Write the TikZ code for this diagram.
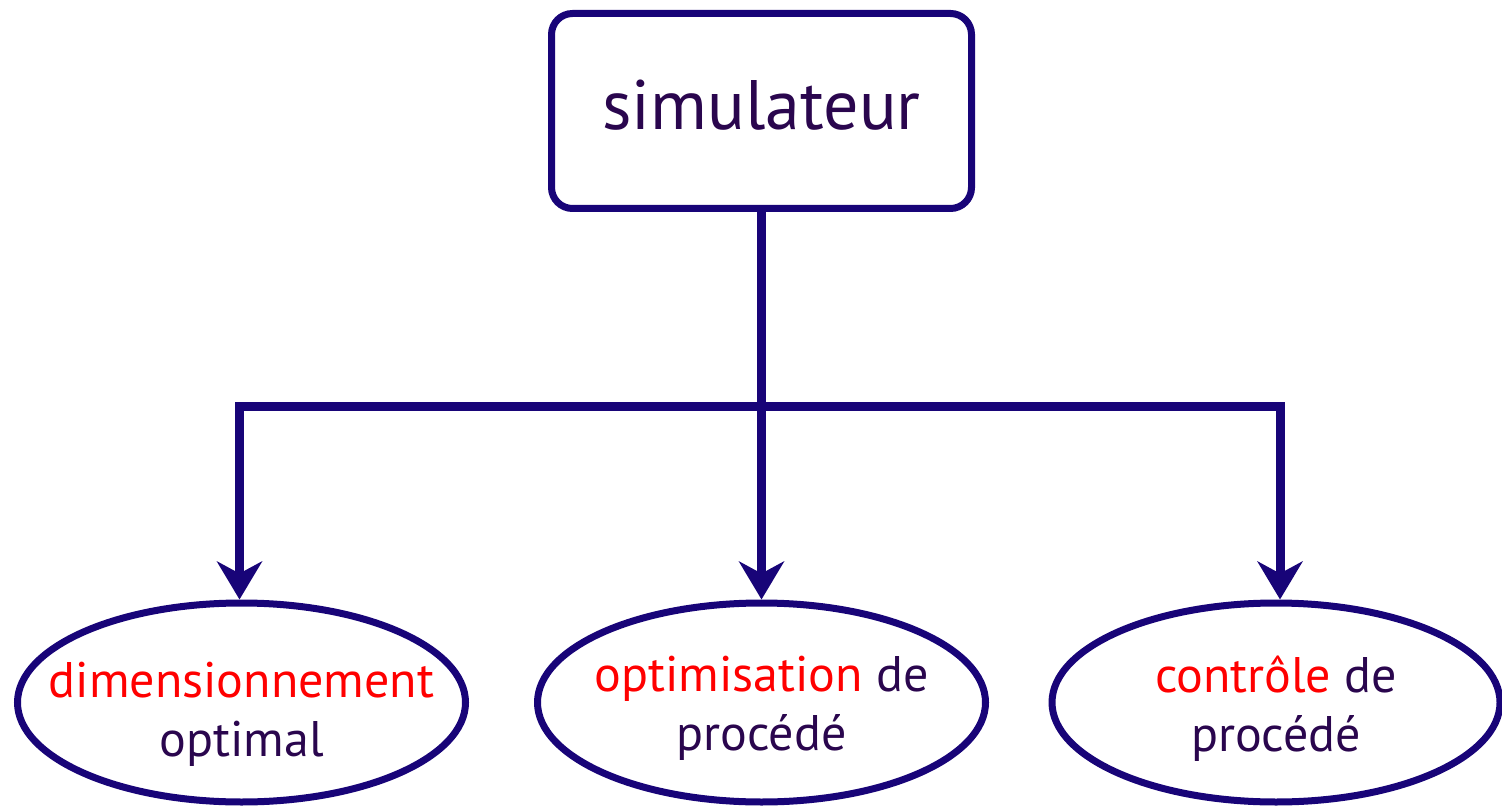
\documentclass[tikz,border=0pt]{standalone}
\usepackage{fontspec}
\setmainfont{PT Sans}
\usetikzlibrary{shapes.geometric,arrows.meta}
\definecolor{navy}{RGB}{24,4,120}
\definecolor{ink}{RGB}{42,6,78}
\begin{document}
\begin{tikzpicture}[x=0.5pt,y=-0.5pt,
    box/.style={draw=navy,line width=3.5pt,rounded corners=10.5pt,minimum width=210pt,minimum height=97.5pt,text=ink,text depth=6pt,font=\fontsize{35}{40}\selectfont},
    task/.style={draw=navy,line width=3.5pt,ellipse,minimum width=224pt,minimum height=99.5pt,inner sep=0pt},
    tasktext/.style={text=ink,align=center,font=\fontsize{25}{29.5}\selectfont},
    link/.style={draw=navy,line width=4.5pt},
    arrowtip/.style={-{Stealth[length=19pt,width=22.5pt,inset=6pt]}}]
    \useasboundingbox (0,0) rectangle (1502,806);

    %Shape: Rounded Rectangle [id:sim]
    \node[box] (sim) at (761.5,111) {simulateur};
    %Shape: Ellipse [id:dim]
    \node[task,label={[tasktext,yshift=-6pt]center:{\textcolor{red}{dimensionnement}\\optimal}}] (dim) at (241.5,702.5) {};
    %Shape: Ellipse [id:opt]
    \node[task,label={[tasktext,yshift=-3pt]center:{\textcolor{red}{optimisation} de\\procédé}}] (opt) at (761.5,702.5) {};
    %Shape: Ellipse [id:ctrl]
    \node[task,label={[tasktext,yshift=-3pt]center:{\textcolor{red}{contrôle} de\\procédé}}] (ctrl) at (1276,702.5) {};

    %Straight Lines [id:split]
    \coordinate (split) at (761.5,406.5);
    \draw[link,arrowtip] (sim) -- (opt);
    \draw[link,arrowtip] (split) -| ([xshift=-1pt]dim.north);
    \draw[link,arrowtip] (split) -| ([xshift=2pt]ctrl.north);
\end{tikzpicture}
\end{document}
